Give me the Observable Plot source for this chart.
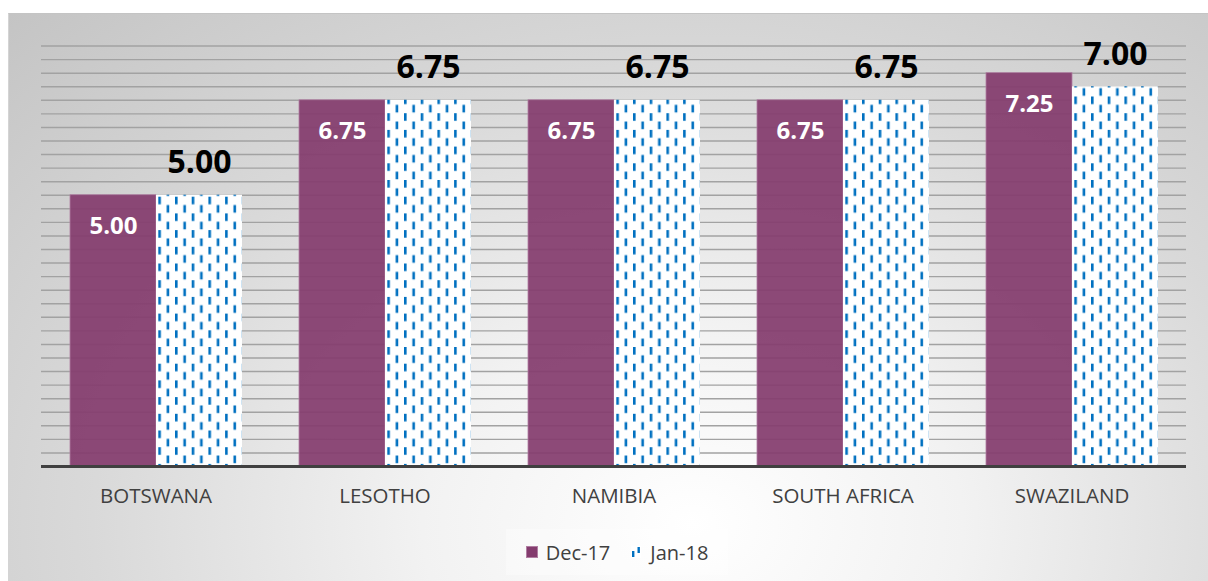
<!DOCTYPE html>
<html>
<head>
<meta charset="utf-8">
<script src="https://cdn.jsdelivr.net/npm/d3@7"></script>
<script src="https://cdn.jsdelivr.net/npm/@observablehq/plot@0.6"></script>
<style>
  html, body { margin: 0; padding: 0; background: #ffffff; }
  #chart {
    position: absolute; left: 8px; top: 13px; width: 1200px; height: 568px;
    box-sizing: border-box; border-top: 1px solid #c4c4c4; border-left: 1px solid #d4d4d4;
    background: radial-gradient(ellipse farthest-corner at 57% 90%, #ffffff 0%, #f2f2f2 28%, #d9d9d9 62%, #c4c4c4 100%);
    font-family: "Open Sans", sans-serif; overflow: hidden;
  }
  #plot { position: absolute; left: -1px; top: -1px; }
  #legend {
    position: absolute; left: 497px; top: 515px; width: 222px; height: 46px;
    background: rgba(255,255,255,0.35);
    display: flex; align-items: center; justify-content: center; gap: 0;
    font-size: 20px; color: #404040;
  }
  .item { display: flex; align-items: center; margin: 0 10px; }
  .item svg { margin-right: 8px; }
</style>
</head>
<body>
<div id="chart"><div id="plot"></div><div id="legend"></div></div>
<script>
const countries = ["BOTSWANA", "LESOTHO", "NAMIBIA", "SOUTH AFRICA", "SWAZILAND"];
const series = ["Dec-17", "Jan-18"];
const dec17 = [5.00, 6.75, 6.75, 6.75, 7.25];
const jan18 = [5.00, 6.75, 6.75, 6.75, 7.00];
const gridTicks = d3.range(1, 32).map(k => k * 0.25);

const decData = countries.map((c, i) => ({country: c, series: series[0], value: dec17[i]}));
const janData = countries.map((c, i) => ({country: c, series: series[1], value: jan18[i]}));

const purple = "#843c6e";
const blue = "#0070c0";

const plot = Plot.plot({
  width: 1200,
  height: 510,
  marginLeft: 33,
  marginRight: 22,
  marginTop: 19,
  marginBottom: 57,
  style: {background: "transparent", fontFamily: "'Open Sans', sans-serif", overflow: "visible"},
  fx: {domain: countries, padding: 0, label: null},
  x: {domain: series, paddingInner: 0, paddingOuter: 0.33, axis: null},
  y: {domain: [0, 8], axis: null},
  marks: [
    Plot.ruleY(gridTicks, {stroke: "#a2a2a2", strokeWidth: 1.4}),
    Plot.barY(decData, {fx: "country", x: "series", y: "value", fill: purple, fillOpacity: 0.93, stroke: "#b07ea2", strokeWidth: 0.8}),
    Plot.barY(janData, {fx: "country", x: "series", y: "value", fill: "url(#dash-pattern)"}),
    Plot.ruleY([0], {stroke: "#404040", strokeWidth: 3.2}),
    Plot.text(decData, {fx: "country", x: "series", y: "value", text: d => d.value.toFixed(2),
      fill: "#ffffff", fontWeight: "bold", fontSize: 24, lineAnchor: "bottom", dy: 39}),
    Plot.text(janData, {fx: "country", x: "series", y: "value", text: d => d.value.toFixed(2),
      fill: "#000000", fontWeight: "bold", fontSize: 32, lineAnchor: "bottom", dy: -22}),
    Plot.axisFx({anchor: "bottom", tickSize: 0, tickPadding: 22, fontSize: 20.5, fill: "#404040", label: null})
  ]
});

// pattern for Jan-18 bars
const svg = d3.select(plot);
const defs = svg.insert("defs", ":first-child");
const pat = defs.append("pattern").attr("id", "dash-pattern").attr("patternUnits", "userSpaceOnUse")
  .attr("width", 16.7).attr("height", 16.7);
pat.append("rect").attr("width", 16.7).attr("height", 16.7).attr("fill", "#ffffff");
pat.append("rect").attr("x", 0).attr("y", 0).attr("width", 2.6).attr("height", 7.6).attr("fill", blue);
pat.append("rect").attr("x", 8.35).attr("y", 8.35).attr("width", 2.6).attr("height", 7.6).attr("fill", blue);

document.getElementById("plot").appendChild(plot);

// legend
const legend = d3.select("#legend");
series.forEach((s, i) => {
  const item = legend.append("div").attr("class", "item");
  const icon = item.append("svg").attr("width", 12).attr("height", 12);
  if (i === 0) {
    icon.append("rect").attr("x", 0.5).attr("y", 0.5).attr("width", 11).attr("height", 11)
      .attr("fill", purple).attr("stroke", "#b07ea2").attr("stroke-width", 1);
  } else {
    icon.append("rect").attr("x", 1).attr("y", 0).attr("width", 10).attr("height", 12).attr("fill", "#ffffff");
    icon.append("rect").attr("x", 2).attr("y", 5).attr("width", 2.4).attr("height", 6).attr("fill", blue);
    icon.append("rect").attr("x", 7.5).attr("y", 1).attr("width", 2.4).attr("height", 6).attr("fill", blue);
  }
  item.append("span").text(s);
});
</script>
</body>
</html>
